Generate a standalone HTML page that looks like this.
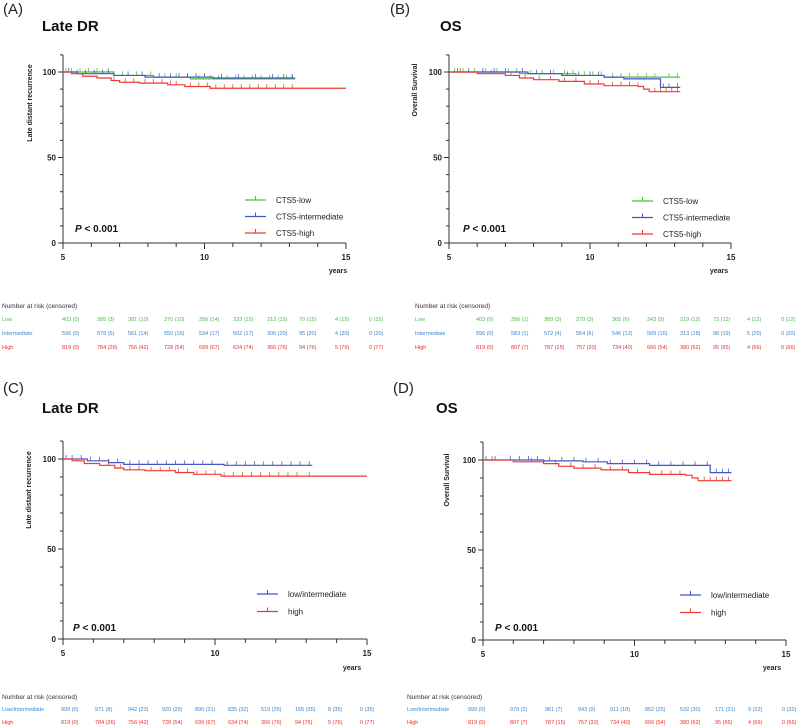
<!DOCTYPE html>
<html><head><meta charset="utf-8"><style>
body{margin:0;background:#fff;}
svg{display:block;font-family:"Liberation Sans",sans-serif;}
</style></head><body>
<svg id="fig" width="800" height="728" viewBox="0 0 800 728"></svg>
<script>
// ---------- DATA ----------
// Step curves: times (years) and survival (%) after each step
const aLowT=[5,6.8,8.2,9.5], aLowS=[100,98,97,96];
const aIntT=[5,5.5,6.8,7.9,10.3], aIntS=[100,99,98,97,96.5];
const aHighT=[5,5.3,5.7,6.2,6.7,7.0,7.7,8.7,9.3,10.2], aHighS=[100,99,97.5,96.5,95,94,93.5,92.5,91.5,90.5];
const aLowC=[5.1,5.3,5.6,5.9,6.2,6.6,7.1,7.6,8.1,8.6,9.0,9.4,9.8,10.2,10.5,10.8,11.1,11.4,11.7,12.0,12.3,12.6,12.9,13.1];
const aIntC=[5.2,5.5,5.8,6.1,6.4,6.6,7.3,7.8,8.4,8.8,9.1,9.4,9.7,10.0,10.6,11.2,11.8,12.4,12.8,13.1];
const aHighC=[6.8,7.2,7.5,7.9,8.2,8.5,8.8,9.0,9.5,9.8,10.1,10.4,10.7,11.0,11.3,11.6,11.9,12.2,12.5,12.8,13.1];
const aEnd=[13.2,13.2,15];

const bLowT=[5,7.5,9.5,10.5], bLowS=[100,99,98,97];
const bIntT=[5,7.8,9,10.5,11.2,12.5], bIntS=[100,99,98,97,96,91];
const bHighT=[5,6,7,7.5,8,8.9,9.8,10.5,11.7,11.9,12.1], bHighS=[100,99,98,96.5,95.5,94.5,93,92,91.5,90,88.5];
const bLowC=[5.2,5.5,5.9,6.3,6.7,7.1,7.4,7.9,8.3,8.7,9.1,9.4,9.8,10.1,10.4,10.8,11.1,11.4,11.7,12.0,12.3,12.8,13.1];
const bIntC=[5.3,5.7,6.2,6.6,7.0,7.6,8.1,8.6,9.2,9.6,10.0,10.3,12.6,12.8,13.1];
const bHighC=[5.4,6.5,7.2,7.7,8.2,8.6,9.1,9.5,10.0,10.3,10.8,11.1,11.4,11.7,12.3,12.5,12.7,12.9,13.1];
const bEnd=[13.2,13.2,13.2];

const cLIT=[5,5.8,6.5,7.0,10.3], cLIS=[100,99,98,97,96.5];
const cHighT=aHighT, cHighS=aHighS;
const cLIC=[5.1,5.3,5.6,5.9,6.2,6.5,6.8,7.2,7.5,7.8,8.1,8.4,8.7,9.0,9.3,9.6,9.9,10.4,10.7,11.0,11.3,11.6,11.9,12.2,12.5,12.8,13.1];
const cHighC=[6.5,6.9,7.2,7.5,7.9,8.2,8.5,8.8,9.1,9.4,9.7,10.0,10.3,10.6,10.9,11.2,11.5,11.8,12.1,12.4,12.7,13.1];
const cEnd=[13.2,15];

const dLIT=[5,7,8.3,9.1,10.5,12.5], dLIS=[100,99.5,99,98,97,93];
const dHighT=bHighT, dHighS=bHighS;
const dLIC=[5.1,5.4,5.9,6.2,6.5,6.8,7.2,7.6,8.0,8.4,8.8,9.2,9.6,10.0,10.4,10.8,11.2,11.6,12.0,12.4,12.7,12.9,13.1];
const dHighC=[5.3,6.6,7.4,7.9,8.3,8.7,9.2,9.6,10.1,10.5,10.9,11.2,11.5,12.3,12.5,12.7,12.9,13.1];
const dEnd=[13.2,13.2];

const xTickLabels=["5","10","15"];
const yTickLabels=["0","50","100"];

// number-at-risk tables
const tabA_low=["403 (0)","395 (3)","381 (10)","370 (10)","356 (14)","333 (15)","213 (15)","70 (15)","4 (15)","0 (15)"];
const tabA_int=["596 (0)","578 (5)","561 (14)","550 (16)","534 (17)","502 (17)","306 (20)","95 (20)","4 (20)","0 (20)"];
const tabA_high=["819 (0)","784 (26)","756 (42)","728 (54)","699 (67)","634 (74)","366 (76)","94 (76)","5 (76)","0 (77)"];
const tabB_low=["403 (0)","396 (1)","389 (3)","379 (3)","365 (6)","343 (9)","219 (12)","73 (12)","4 (12)","0 (12)"];
const tabB_int=["596 (0)","583 (1)","572 (4)","564 (6)","546 (12)","509 (16)","313 (18)","98 (19)","5 (20)","0 (20)"];
const tabB_high=["819 (0)","807 (7)","787 (15)","757 (33)","734 (40)","666 (54)","380 (62)","95 (65)","4 (66)","0 (66)"];
const tabC_li=["999 (0)","971 (8)","942 (23)","920 (26)","890 (31)","835 (32)","519 (35)","165 (35)","8 (35)","0 (35)"];
const tabC_high=tabA_high;
const tabD_li=["999 (0)","979 (2)","961 (7)","943 (9)","911 (18)","852 (25)","532 (30)","171 (31)","9 (32)","0 (32)"];
const tabD_high=tabB_high;

// ---------- DRAW ----------
const NS="http://www.w3.org/2000/svg";
const svg=document.getElementById('fig');
const GREEN="#4cbf3c", BLUE="#4455c8", RED="#ee3b33";
const TG="#4cb84c", TB="#3a86d0", TR="#e8302c";
function mk(tag,attrs,parent){const e=document.createElementNS(NS,tag);for(const k in attrs)e.setAttribute(k,attrs[k]);(parent||svg).appendChild(e);return e;}
function txt(s,x,y,attrs,parent){const t=mk('text',Object.assign({x:x,y:y},attrs),parent);t.textContent=s;return t;}
function stepAt(T,S,t){let v=S[0];for(let i=0;i<T.length;i++){if(T[i]<=t)v=S[i];}return v;}

function panel(p){
  const g=mk('g',{});
  
  
  const xs=t=>p.x0+(t-5)/10*(p.x1-p.x0);
  const ys=v=>p.y0-(v/100)*(p.y0-p.y100);
  const lab=txt(p.letter,p.lx,p.ly,{'font-size':15,fill:'#222'},g);
  
  const tt=txt(p.title,p.tx,p.ty,{'font-size':15,'font-weight':'bold',fill:'#111'},g);
  
  // axes
  const ax=mk('g',{stroke:'#333','stroke-width':1},g);
  
  mk('line',{x1:p.x0,y1:ys(110),x2:p.x0,y2:p.y0},ax);
  mk('line',{x1:p.x0,y1:p.y0,x2:p.x1,y2:p.y0},ax);
  for(let v=0;v<=110;v+=10){const maj=v%50===0;mk('line',{x1:p.x0-(maj?5:3),y1:ys(v),x2:p.x0,y2:ys(v)},ax);}
  for(let t=5;t<=15;t++){const maj=t%5===0;mk('line',{x1:xs(t),y1:p.y0,x2:xs(t),y2:p.y0+(maj?6:4)},ax);}
  yTickLabels.forEach(s=>{const e=txt(s,p.x0-7,ys(+s)+3,{'font-size':8,'font-weight':'bold','text-anchor':'end',fill:'#222'},g);});
  xTickLabels.forEach(s=>{const e=txt(s,xs(+s),p.y0+17,{'font-size':8,'font-weight':'bold','text-anchor':'middle',fill:'#222'},g);});
  const yt=txt(p.ylab,0,0,{'font-size':7,'font-weight':'bold','text-anchor':'middle',fill:'#222',transform:`translate(${p.yl[0]},${p.yl[1]}) rotate(-90)`},g);
  
  const xt=txt('years',p.yrs[0],p.yrs[1],{'font-size':7,'font-weight':'bold','text-anchor':'middle',fill:'#222'},g);
  
  // series
  p.series.forEach(s=>{
    let d=`M${xs(s.T[0])},${ys(s.S[0])}`;
    for(let i=1;i<s.T.length;i++){d+=`H${xs(s.T[i])}V${ys(s.S[i])}`;}
    d+=`H${xs(s.end)}`;
    const path=mk('path',{d:d,fill:'none',stroke:s.color,'stroke-width':1.2},g);
    
    
    s.C.forEach(c=>{
      const v=stepAt(s.T,s.S,c);
      const l=mk('line',{x1:xs(c),y1:ys(v)-4,x2:xs(c),y2:ys(v),stroke:s.color,'stroke-width':0.9,opacity:0.85},g);
      
      
    });
  });
  // legend
  p.series.forEach((s,i)=>{
    const y=p.leg[1]+i*p.leg[2];
    const lg=mk('g',{},g);
    
    
    mk('line',{x1:p.leg[0],y1:y,x2:p.leg[0]+21,y2:y,stroke:s.color,'stroke-width':1.2},lg);
    mk('line',{x1:p.leg[0]+10.5,y1:y-4,x2:p.leg[0]+10.5,y2:y,stroke:s.color,'stroke-width':1},lg);
    txt(s.label,p.leg[0]+31,y+3,{'font-size':8,fill:'#222'},lg);
  });
  const pv=txt('',p.pv[0],p.pv[1],{'font-size':10,'font-weight':'bold',fill:'#111'},g);
  
  const it=mk('tspan',{'font-style':'italic'},pv);it.textContent='P';
  const rest=mk('tspan',{},pv);rest.textContent=' < 0.001';
  // table
  const tg=mk('g',{},g);
  
  
  txt('Number at risk (censored)',p.tab.x,p.tab.y,{'font-size':6.5,fill:'#333'},tg);
  p.tab.rows.forEach((r,i)=>{
    const y=p.tab.y+p.tab.r0+i*p.tab.dy;
    txt(r.label,p.tab.x,y,{'font-size':5.5,fill:r.color},tg);
    r.vals.forEach((v,j)=>{txt(v,p.tab.cols[j],y,{'font-size':5.5,fill:r.color},tg);});
  });
}

panel({name:'panel-a-late-dr',letter:'(A)',lx:3,ly:14,title:'Late DR',tx:42,ty:31,x0:63,x1:346,y0:243,y100:72,
  ylab:'Late distant recurrence',yl:[32,103],yrs:[338,273],leg:[245,200,16.5],pv:[75,232],
  series:[{name:'cts5-low',T:aLowT,S:aLowS,C:aLowC,end:aEnd[0],color:GREEN,label:'CTS5-low'},
          {name:'cts5-intermediate',T:aIntT,S:aIntS,C:aIntC,end:aEnd[1],color:BLUE,label:'CTS5-intermediate'},
          {name:'cts5-high',T:aHighT,S:aHighS,C:aHighC,end:aEnd[2],color:RED,label:'CTS5-high'}],
  tab:{x:2,y:308,r0:13,dy:14,cols:[62,97,128,164,199,233,267,299,335,369],
    rows:[{label:'Low',color:TG,vals:tabA_low},{label:'Intermediate',color:TB,vals:tabA_int},{label:'High',color:TR,vals:tabA_high}]}});

panel({name:'panel-b-os',letter:'(B)',lx:390,ly:14,title:'OS',tx:440,ty:31,x0:449,x1:731,y0:243,y100:72,
  ylab:'Overall Survival',yl:[417,90],yrs:[719,273],leg:[632,201,16.5],pv:[463,232],
  series:[{name:'cts5-low',T:bLowT,S:bLowS,C:bLowC,end:bEnd[0],color:GREEN,label:'CTS5-low'},
          {name:'cts5-intermediate',T:bIntT,S:bIntS,C:bIntC,end:bEnd[1],color:BLUE,label:'CTS5-intermediate'},
          {name:'cts5-high',T:bHighT,S:bHighS,C:bHighC,end:bEnd[2],color:RED,label:'CTS5-high'}],
  tab:{x:415,y:308,r0:13,dy:14,cols:[476,511,544,576,612,647,680,713,747,781],
    rows:[{label:'Low',color:TG,vals:tabB_low},{label:'Intermediate',color:TB,vals:tabB_int},{label:'High',color:TR,vals:tabB_high}]}});

panel({name:'panel-c-late-dr',letter:'(C)',lx:3,ly:393,title:'Late DR',tx:42,ty:413,x0:63,x1:367,y0:639,y100:459,
  ylab:'Late distant recurrence',yl:[31,490],yrs:[352,670],leg:[257,594,17.5],pv:[73,631],
  series:[{name:'low-intermediate',T:cLIT,S:cLIS,C:cLIC,end:cEnd[0],color:BLUE,label:'low/intermediate'},
          {name:'high',T:cHighT,S:cHighS,C:cHighC,end:cEnd[1],color:RED,label:'high'}],
  tab:{x:2,y:699,r0:12,dy:13,cols:[61,95,128,162,195,228,261,295,328,360],
    rows:[{label:'Low/Intermediate',color:TB,vals:tabC_li},{label:'High',color:TR,vals:tabC_high}]}});

panel({name:'panel-d-os',letter:'(D)',lx:393,ly:393,title:'OS',tx:436,ty:413,x0:483,x1:786,y0:640,y100:460,
  ylab:'Overall Survival',yl:[449,480],yrs:[772,670],leg:[680,595,17.5],pv:[495,631],
  series:[{name:'low-intermediate',T:dLIT,S:dLIS,C:dLIC,end:dEnd[0],color:BLUE,label:'low/intermediate'},
          {name:'high',T:dHighT,S:dHighS,C:dHighC,end:dEnd[1],color:RED,label:'high'}],
  tab:{x:407,y:699,r0:12,dy:13,cols:[468,510,545,578,610,645,680,715,748,782],
    rows:[{label:'Low/Intermediate',color:TB,vals:tabD_li},{label:'High',color:TR,vals:tabD_high}]}});
</script>
</body></html>
